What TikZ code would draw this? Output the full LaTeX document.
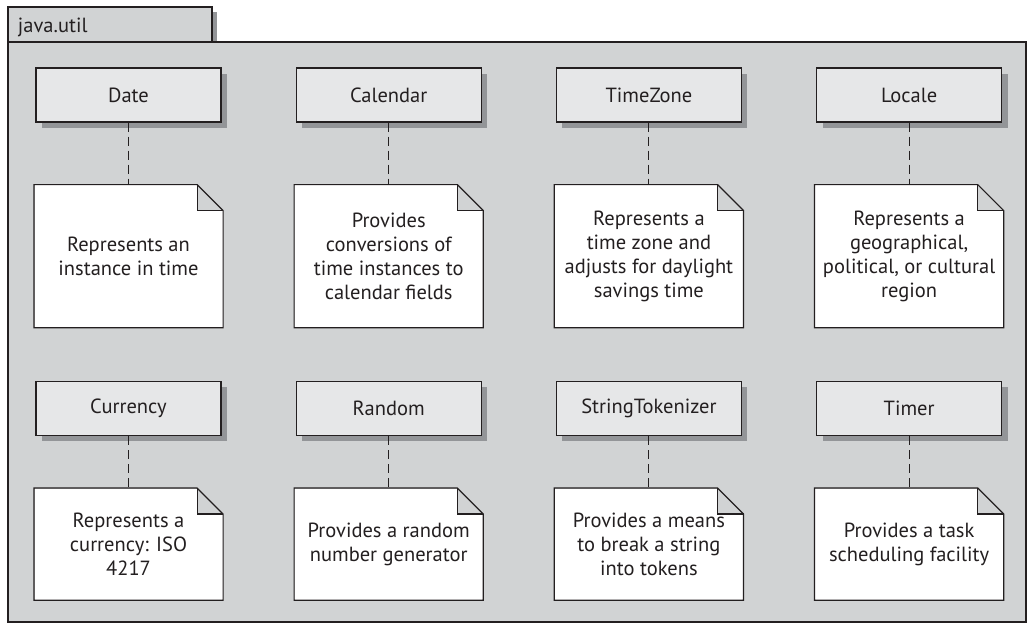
\documentclass[tikz,border=0pt]{standalone}
\usepackage{fontspec}
\setmainfont{PT Sans}
\usetikzlibrary{positioning,shadows}
\definecolor{pkggray}{HTML}{D1D3D4}
\definecolor{classgray}{HTML}{E6E7E8}
\definecolor{shadowgray}{HTML}{939598}
\definecolor{inkgray}{HTML}{231F20}

\begin{document}
\begin{tikzpicture}[
    x=1pt, y=-1pt,
    line width=1.2pt,
    font=\fontsize{20.5}{24}\selectfont,
    text=inkgray,
    classbox/.style={draw=inkgray, fill=classgray,
      minimum width=185pt, minimum height=54pt, inner sep=0pt,
      drop shadow={shadow xshift=6pt, shadow yshift=-6pt,
        fill=shadowgray, opacity=1}},
    notebox/.style={fill=white, minimum width=188pt, inner sep=0pt, align=center},
    link/.style={draw=inkgray, line width=1pt, dash pattern=on 9pt off 5pt}
  ]
  \useasboundingbox (0,0) rectangle (1028,623);

  \fill[shadowgray] (212,12) rectangle (217,42);
  \draw[draw=inkgray, fill=pkggray] (8,7) rectangle (212,42);
  \draw[draw=inkgray, fill=pkggray] (8,42) rectangle (1026,622);
  \node[anchor=base west] (pkgname) at (14,33) {java.util};

  \node[classbox] (date) at (128.5,95) {Date};
  \node[classbox, right=74pt of date] (calendar) {Calendar};
  \node[classbox, right=74pt of calendar] (timezone) {TimeZone};
  \node[classbox, right=74pt of timezone] (locale) {Locale};

  \node[notebox, minimum height=142pt, below=62pt of date] (date-note)
    {Represents an\\instance in time};
  \node[notebox, minimum height=142pt, below=62pt of calendar] (calendar-note)
    {Provides\\conversions of\\time instances to\\calendar fields};
  \node[notebox, minimum height=142pt, below=62pt of timezone] (timezone-note)
    {Represents a\\time zone and\\adjusts for daylight\\savings time};
  \node[notebox, minimum height=142pt, below=62pt of locale] (locale-note)
    {Represents a\\geographical,\\political, or cultural\\region};

  \node[classbox, below=53pt of date-note] (currency) {Currency};
  \node[classbox, right=74pt of currency] (random) {Random};
  \node[classbox, right=74pt of random] (tokenizer) {StringTokenizer};
  \node[classbox, right=74pt of tokenizer] (timer) {Timer};

  \node[notebox, minimum height=111pt, below=52pt of currency] (currency-note)
    {Represents a\\currency: ISO\\4217};
  \node[notebox, minimum height=111pt, below=52pt of random] (random-note)
    {Provides a random\\number generator};
  \node[notebox, minimum height=111pt, below=52pt of tokenizer] (tokenizer-note)
    {Provides a means\\to break a string\\into tokens};
  \node[notebox, minimum height=111pt, below=52pt of timer] (timer-note)
    {Provides a task\\scheduling facility};

  \foreach \c in {date,calendar,timezone,locale,currency,random,tokenizer,timer} {
    \fill[pkggray] ([xshift=-26pt]\c-note.north east) rectangle ([yshift=-26pt]\c-note.north east);
    \draw[inkgray] (\c-note.north west) -- ([xshift=-26pt]\c-note.north east)
      -- ([yshift=-26pt]\c-note.north east) -- (\c-note.south east)
      -- (\c-note.south west) -- cycle;
    \draw[inkgray] ([xshift=-26pt]\c-note.north east) |- ([yshift=-26pt]\c-note.north east);
    \draw[link] (\c) -- (\c-note);
  }
\end{tikzpicture}
\end{document}
